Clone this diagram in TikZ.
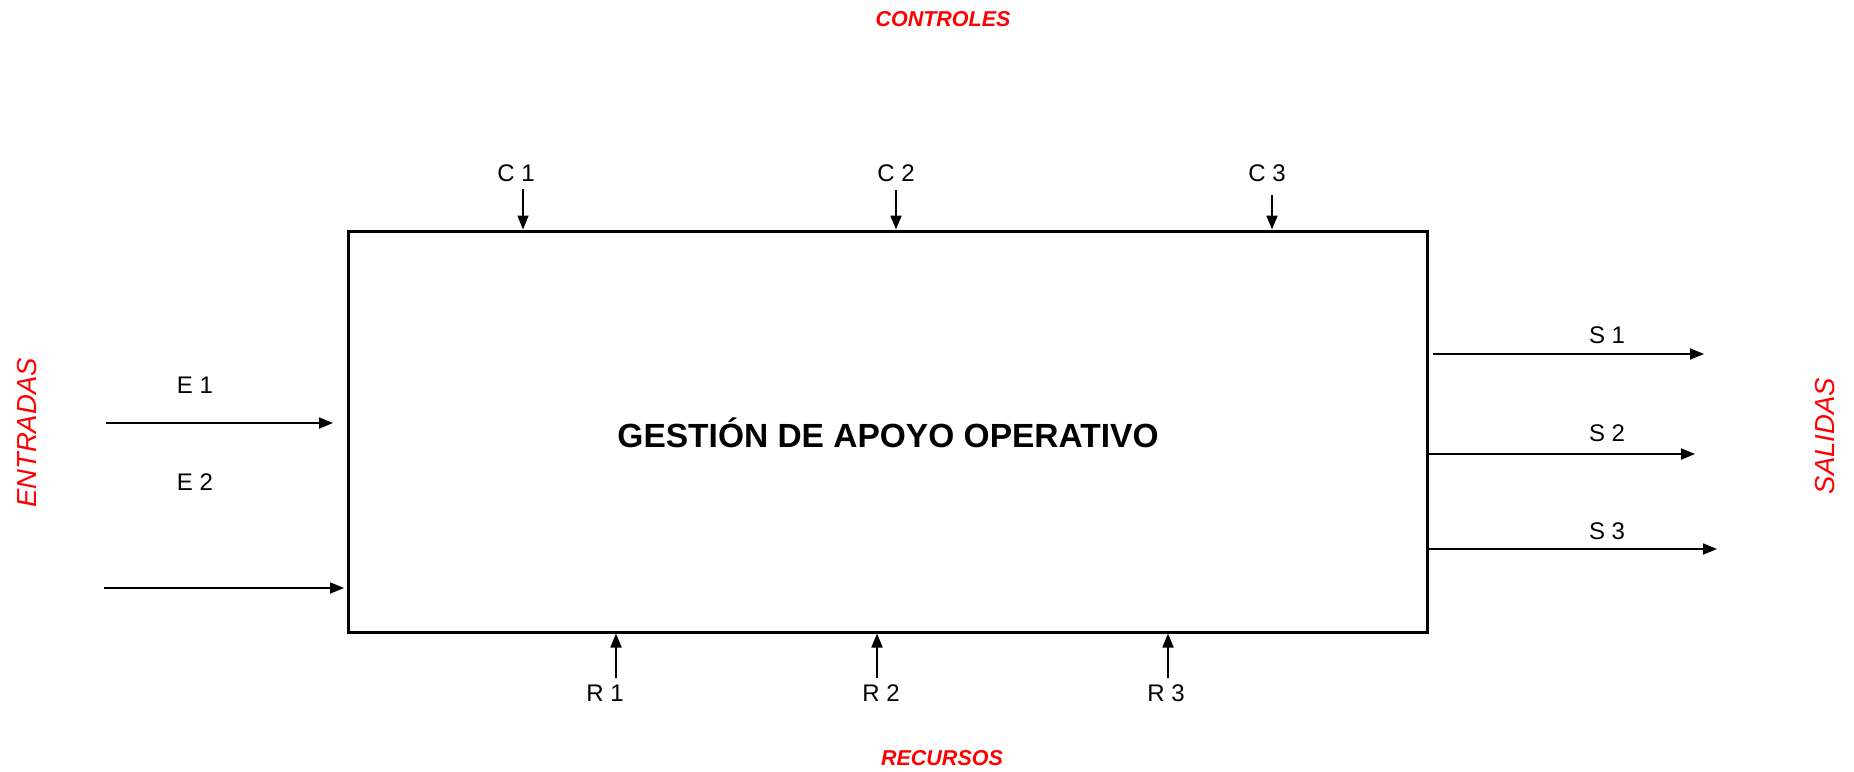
\documentclass[tikz,border=0pt]{standalone}
\usepackage{fontspec}
\setmainfont{Liberation Sans}
\usetikzlibrary{arrows.meta}
\begin{document}
\begin{tikzpicture}[x=1pt,y=-1pt,
  arr/.style={line width=1.8pt,-{Triangle[length=14pt,width=11pt]}},
  lbl/.style={font=\fontsize{24}{28}\selectfont,inner sep=0pt},
  redbold/.style={text=red,font=\fontsize{21.5}{26}\selectfont\bfseries\itshape,inner sep=0pt},
  redit/.style={text=red,font=\fontsize{27.5}{32}\selectfont\itshape,inner sep=0pt,rotate=90},
  boxstyle/.style={draw,line width=3pt,minimum width=1079pt,minimum height=401pt,inner sep=0pt}]
\useasboundingbox (0,0) rectangle (1854,771);
\node[boxstyle] (box) at (887.5,431.5) {};
\node[font=\fontsize{33.5}{38}\selectfont\bfseries,inner sep=0pt] (title) at (888,433) {GESTIÓN DE APOYO OPERATIVO};
\node[redbold] (ctrl) at (943,19) {CONTROLES};
\node[redbold] (rec) at (942,758) {RECURSOS};
\node[redit] (ent) at (27,433) {ENTRADAS};
\node[redit] (sal) at (1825,436) {SALIDAS};
% controls
\node[lbl] (c1) at (516,173) {C 1};
\node[lbl] (c2) at (896,173) {C 2};
\node[lbl] (c3) at (1267,173) {C 3};
\coordinate (c1s) at (523,189);
\coordinate (c2s) at (896,190);
\coordinate (c3s) at (1272,195);
\draw[arr] (c1s) -- (c1s |- box.north);
\draw[arr] (c2s) -- (c2s |- box.north);
\draw[arr] (c3s) -- (c3s |- box.north);
% resources
\node[lbl] (r1) at (605,693) {R 1};
\node[lbl] (r2) at (881,693) {R 2};
\node[lbl] (r3) at (1166,693) {R 3};
\coordinate (r1s) at (616,678);
\coordinate (r2s) at (877,678);
\coordinate (r3s) at (1168,678);
\draw[arr] (r1s) -- (r1s |- box.south);
\draw[arr] (r2s) -- (r2s |- box.south);
\draw[arr] (r3s) -- (r3s |- box.south);
% inputs
\node[lbl] (e1) at (195,385) {E 1};
\node[lbl] (e2) at (195,482) {E 2};
\coordinate (e1s) at (106,423);
\coordinate (e1e) at (333,423);
\coordinate (e2s) at (104,588);
\coordinate (e2e) at (344,588);
\draw[arr] (e1s) -- (e1e);
\draw[arr] (e2s) -- (e2e);
% outputs
\node[lbl] (s1) at (1607,335) {S 1};
\node[lbl] (s2) at (1607,433) {S 2};
\node[lbl] (s3) at (1607,531) {S 3};
\coordinate (s1s) at (1433,354);
\coordinate (s1e) at (1704,354);
\coordinate (s2e) at (1695,454);
\coordinate (s3e) at (1717,549);
\draw[arr] (s1s) -- (s1e);
\draw[arr] (s2e -| box.east) -- (s2e);
\draw[arr] (s3e -| box.east) -- (s3e);
\end{tikzpicture}
\end{document}
